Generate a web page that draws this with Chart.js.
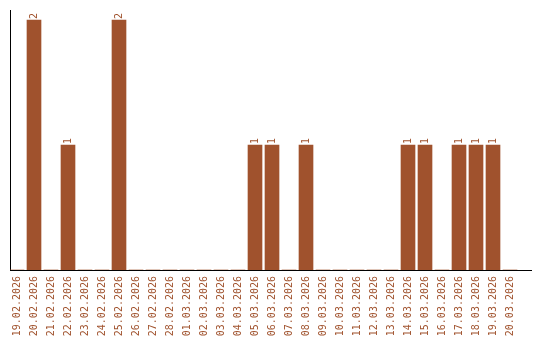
<!DOCTYPE html>
<html>
<head>
<meta charset="utf-8">
<script src="https://cdn.jsdelivr.net/npm/chart.js@4/dist/chart.umd.min.js"></script>
<style>
  html, body { margin: 0; padding: 0; background: #fff; }
  #wrap { width: 540px; height: 340px; }
</style>
</head>
<body>
<div id="wrap"><canvas id="chart" width="540" height="340"></canvas></div>
<script>
// day labels and counts per day
const dates = [
  '19.02.2026', '20.02.2026', '21.02.2026', '22.02.2026', '23.02.2026',
  '24.02.2026', '25.02.2026', '26.02.2026', '27.02.2026', '28.02.2026',
  '01.03.2026', '02.03.2026', '03.03.2026', '04.03.2026', '05.03.2026',
  '06.03.2026', '07.03.2026', '08.03.2026', '09.03.2026', '10.03.2026',
  '11.03.2026', '12.03.2026', '13.03.2026', '14.03.2026', '15.03.2026',
  '16.03.2026', '17.03.2026', '18.03.2026', '19.03.2026', '20.03.2026'
];
const counts = [
  0, 2, 0, 1, 0, 0, 2, 0, 0, 0,
  0, 0, 0, 0, 1, 1, 0, 1, 0, 0,
  0, 0, 0, 1, 1, 0, 1, 1, 1, 0
];

const barColor = '#a0522d';
const font = { family: 'DejaVu Sans Mono', size: 10 };

// value labels above bars, rotated
const valueLabels = {
  id: 'valueLabels',
  afterDatasetsDraw(chart) {
    const ctx = chart.ctx;
    const meta = chart.getDatasetMeta(0);
    ctx.save();
    ctx.fillStyle = barColor;
    ctx.font = font.size + 'px ' + font.family;
    ctx.textAlign = 'left';
    ctx.textBaseline = 'middle';
    meta.data.forEach((bar, i) => {
      if (!counts[i]) return;
      ctx.save();
      ctx.translate(bar.x, bar.y - 1);
      ctx.rotate(-Math.PI / 2);
      ctx.fillText(String(counts[i]), 0, 0);
      ctx.restore();
    });
    ctx.restore();
  }
};

new Chart(document.getElementById('chart'), {
  type: 'bar',
  data: {
    datasets: [{
      data: counts.map((c, i) => ({ x: i, y: c })),
      backgroundColor: barColor,
      barThickness: 14
    }]
  },
  options: {
    responsive: false,
    animation: false,
    layout: { padding: { top: 10, left: 10, right: 9, bottom: 0 } },
    plugins: {
      legend: { display: false },
      tooltip: { enabled: false }
    },
    scales: {
      x: {
        type: 'linear',
        offset: false,
        min: -0.4118,
        max: 30.235,
        grid: { display: false, drawTicks: false },
        border: { display: true, color: '#000', width: 1 },
        afterFit: (scale) => {
          scale.height = 70;
          scale.paddingLeft = 0;
          scale.paddingRight = 0;
        },
        ticks: {
          stepSize: 1,
          includeBounds: false,
          autoSkip: false,
          minRotation: 90,
          maxRotation: 90,
          padding: 6,
          color: barColor,
          font: font,
          callback: (v) => Number.isInteger(v) && dates[v] ? dates[v] : ''
        }
      },
      y: {
        min: 0,
        max: 2.08,
        grid: { display: false, drawTicks: false },
        border: { display: true, color: '#000', width: 1 },
        afterFit: (scale) => { scale.width = 0; },
        ticks: { display: false }
      }
    }
  },
  plugins: [valueLabels]
});
</script>
</body>
</html>
